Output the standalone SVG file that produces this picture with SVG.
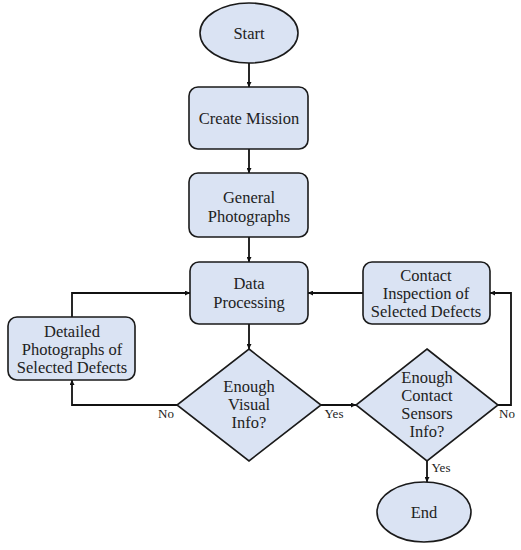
<svg xmlns="http://www.w3.org/2000/svg" width="521" height="550" viewBox="0 0 521 550">
<style>
.n{fill:#dae3f3;stroke:#1a1a1a;stroke-width:1.6}
.t{font-family:"Liberation Serif","DejaVu Serif",serif;font-size:16.5px;fill:#222;text-anchor:middle}
.l{font-family:"Liberation Serif","DejaVu Serif",serif;font-size:13px;fill:#222;text-anchor:middle}
.c{fill:none;stroke:#111;stroke-width:1.8}
</style>
<defs>
<marker id="a" viewBox="0 0 10 10" refX="10" refY="5" markerWidth="5" markerHeight="5" orient="auto" markerUnits="userSpaceOnUse">
<path d="M0,0 L10,5 L0,10 z" fill="#111"/>
</marker>
</defs>
<rect width="521" height="550" fill="#fff"/>
<g id="connectors">
<path class="c" d="M249,63 V87" marker-end="url(#a)"/>
<path class="c" d="M249,149 V173" marker-end="url(#a)"/>
<path class="c" d="M249,237 V262" marker-end="url(#a)"/>
<path class="c" d="M249,324 V349" marker-end="url(#a)"/>
<path class="c" d="M72,317 V293 H190" marker-end="url(#a)"/>
<path class="c" d="M177,405 H72 V380" marker-end="url(#a)"/>
<path class="c" d="M321,405 H356" marker-end="url(#a)"/>
<path class="c" d="M498,405 H511 V293 H490" marker-end="url(#a)"/>
<path class="c" d="M363,293 H308" marker-end="url(#a)"/>
<path class="c" d="M427,461 V482" marker-end="url(#a)"/>
<text class="l" x="166" y="418">No</text>
<text class="l" x="334" y="418">Yes</text>
<text class="l" x="507" y="418">No</text>
<text class="l" x="441" y="472">Yes</text>
</g>
<g id="start">
<ellipse class="n" cx="249" cy="33" rx="49" ry="30"/>
<text class="t" x="249" y="39">Start</text>
</g>
<g id="create">
<rect class="n" x="189" y="87" width="119" height="62" rx="9"/>
<text class="t" x="249" y="124">Create Mission</text>
</g>
<g id="general">
<rect class="n" x="189" y="173" width="119" height="64" rx="9"/>
<text class="t" x="249" y="203">General</text>
<text class="t" x="249" y="222">Photographs</text>
</g>
<g id="data">
<rect class="n" x="190" y="262" width="118" height="62" rx="9"/>
<text class="t" x="249" y="289">Data</text>
<text class="t" x="249" y="308">Processing</text>
</g>
<g id="detailed">
<rect class="n" x="8" y="317" width="127" height="63" rx="9"/>
<text class="t" x="72" y="337">Detailed</text>
<text class="t" x="72" y="355">Photographs of</text>
<text class="t" x="72" y="373">Selected Defects</text>
</g>
<g id="visual">
<path class="n" d="M249,349 L321,405 L249,461 L177,405 Z"/>
<text class="t" x="249" y="392">Enough</text>
<text class="t" x="249" y="410">Visual</text>
<text class="t" x="249" y="428">Info?</text>
</g>
<g id="contact">
<rect class="n" x="363" y="262" width="127" height="62" rx="9"/>
<text class="t" x="426" y="281">Contact</text>
<text class="t" x="426" y="299">Inspection of</text>
<text class="t" x="426" y="317">Selected Defects</text>
</g>
<g id="sensors">
<path class="n" d="M427,349 L498,405 L427,461 L356,405 Z"/>
<text class="t" x="427" y="383">Enough</text>
<text class="t" x="427" y="401">Contact</text>
<text class="t" x="427" y="419">Sensors</text>
<text class="t" x="427" y="437">Info?</text>
</g>
<g id="end">
<ellipse class="n" cx="424" cy="512" rx="47" ry="30"/>
<text class="t" x="424" y="518">End</text>
</g>
</svg>
